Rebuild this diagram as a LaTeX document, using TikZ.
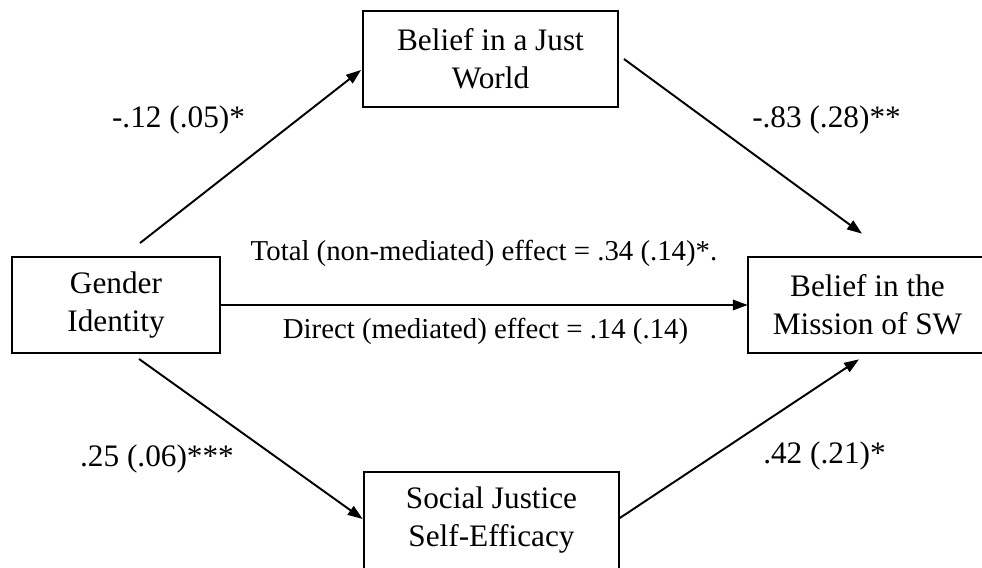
\documentclass[tikz,border=0pt]{standalone}
\usepackage{fontspec}
\setmainfont{Liberation Serif}
\usepackage{tikz}
\usetikzlibrary{calc}
\usetikzlibrary{positioning}
\usetikzlibrary {arrows.meta}

\begin{document}
\begin{tikzpicture}[
	x=0.02cm, y=-0.02cm,
	txt/.style = {rectangle, inner sep=0pt, minimum height=1.92cm, align=center, font=\fontsize{17.8}{21.6}\selectfont},
	box/.style = {txt, draw=black, line width=1.1pt},
	edge/.style = {draw=black, line width=1.1pt},
	lab/.style = {inner sep=0pt, anchor=base, font=\fontsize{17.8}{21.6}\selectfont},
	mid/.style = {inner sep=0pt, anchor=base, font=\fontsize{16.4}{19.7}\selectfont},
	r/.style = {-{Triangle[length=8.5pt, width=6pt]}, line width=1.1pt}
	]
	
	\useasboundingbox (0, 0) rectangle (982, 567);
	\clip (0, 0) rectangle (982, 567);
	
	%Nodes
	\node[box, minimum width=5.1cm]		(just)		at	(490.5, 59)		{Belief in a Just\\World};
	\node[box, minimum width=4.16cm]	(gender)	at	(116, 305)		{Gender\\Identity};
	\node[txt, minimum width=4.78cm]	(mission)	at	(867.5, 305)	{Belief in the\\Mission of SW};
	\node[txt, minimum width=5.1cm]		(efficacy)	at	(491.5, 520)	{Social Justice\\Self-Efficacy};
	
	% boxes cut off at the edge of the picture
	\path[edge]	(mission.north west)	rectangle	($(mission.south east)+(40, 0)$);
	\path[edge]	(efficacy.north west)	rectangle	($(efficacy.south east)+(0, 40)$);
	
	\node[lab]	(l-a)	at	(178.5, 128)	{-.12 (.05)*};
	\node[lab]	(l-b)	at	(826.5, 128)	{-.83 (.28)**};
	\node[lab]	(l-c)	at	(157, 466)		{.25 (.06)***};
	\node[lab]	(l-d)	at	(824.5, 463)	{.42 (.21)*};
	\node[mid]	(total)		at	(484, 260)		{Total (non-mediated) effect = .34 (.14)*.};
	\node[mid]	(direct)	at	(485.5, 338)	{Direct (mediated) effect = .14 (.14)};
	
	
	
	%Lines
	\draw[r]	($(gender.north)+(24, -13)$)	to	($(just.west)+(-1, 11)$);
	\draw[r]	($(just.east)+(5, 0)$)			to	($(mission.north)+(-5.5, -23)$);
	\draw[r]	(gender.east)					to	(mission.west);
	\draw[r]	($(gender.south)+(23, 5)$)		to	($(efficacy.west)+(-1, -1)$);
	\draw[r]	($(efficacy.east)+(-1, -1)$)	to	($(mission.south)+(-8.5, 6)$);
	
	
	
\end{tikzpicture}
\end{document}
